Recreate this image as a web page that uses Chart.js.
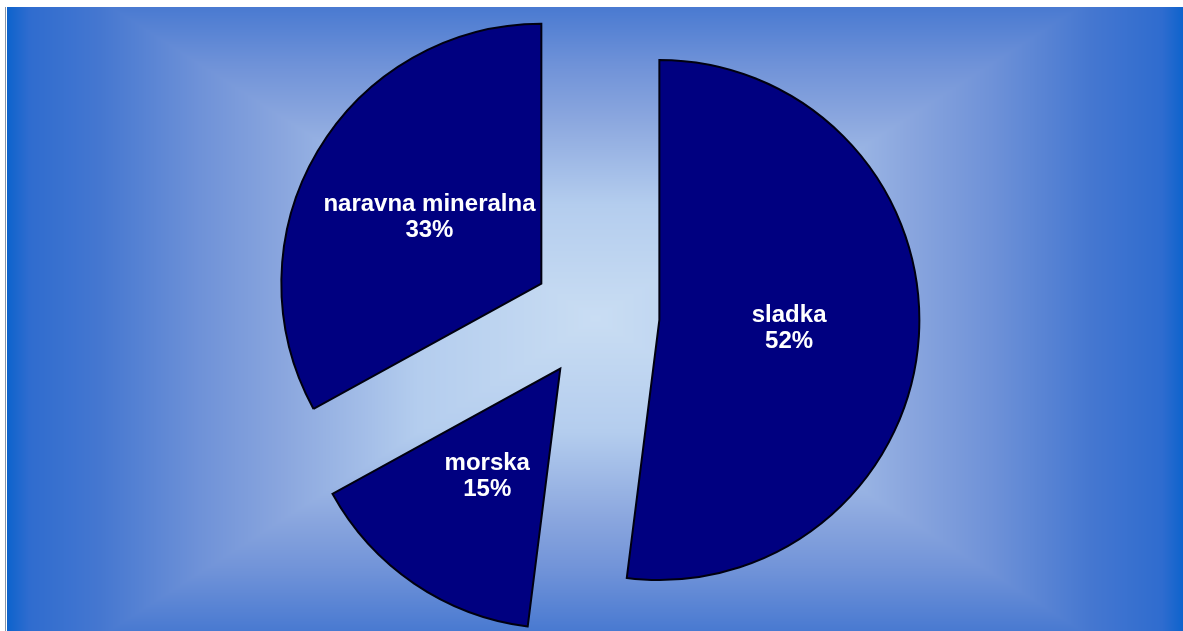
<!DOCTYPE html>
<html>
<head>
<meta charset="utf-8">
<title>Voda</title>
<script src="https://cdn.jsdelivr.net/npm/chart.js@4.4.1/dist/chart.umd.min.js"></script>
<style>
  html, body { margin: 0; padding: 0; background: #ffffff; }
  canvas { display: block; }
</style>
</head>
<body>
<canvas id="pie" width="1183" height="631"></canvas>
<script>
const labels = ['sladka', 'morska', 'naravna mineralna'];
const shares = [52, 15, 33];

// backdrop: rectangular "path" gradient, light in the middle and blue at the edges
const bgStops = [
  [0, [201, 221, 243]], [0.3, [180, 205, 238]], [0.53, [138, 166, 222]], [0.67, [111, 146, 216]],
  [0.84, [69, 119, 208]], [0.96, [47, 108, 207]], [1, [10, 98, 204]]
];

function stopColor(t) {
  for (let i = 1; i < bgStops.length; i++) {
    if (t <= bgStops[i][0]) {
      const [t0, c0] = bgStops[i - 1];
      const [t1, c1] = bgStops[i];
      const f = (t - t0) / (t1 - t0);
      return c0.map((v, k) => v + (c1[k] - v) * f);
    }
  }
  return bgStops[bgStops.length - 1][1];
}

const backdrop = {
  id: 'backdrop',
  beforeDraw(chart) {
    const ctx = chart.ctx;
    const W = chart.width, H = chart.height;
    const x0 = 7, y0 = 7;
    const cx = 595, cy = 318;
    const hw = 590, hh = 379;
    const img = ctx.createImageData(W, H);
    const px = img.data;
    for (let y = 0; y < H; y++) {
      for (let x = 0; x < W; x++) {
        const i = (y * W + x) * 4;
        let c;
        if (x < x0 || y < y0) {
          c = x === 5 && y >= y0 ? [138, 150, 168] : [255, 255, 255];
        } else {
          const t = Math.min(1, Math.max(Math.abs(x - cx) / hw, Math.abs(y - cy) / hh));
          c = stopColor(t);
        }
        px[i] = c[0]; px[i + 1] = c[1]; px[i + 2] = c[2]; px[i + 3] = 255;
      }
    }
    ctx.putImageData(img, 0, 0);
  }
};

// pull every slice out from the centre along its middle angle
const explode = {
  id: 'explode',
  afterDatasetsUpdate(chart, args, opts) {
    chart.getDatasetMeta(0).data.forEach(arc => {
      const mid = (arc.startAngle + arc.endAngle) / 2;
      arc.x += Math.cos(mid) * opts.distance;
      arc.y += Math.sin(mid) * opts.distance;
    });
  }
};

// two-line label (name + percent) halfway out on each slice
const sliceLabels = {
  id: 'sliceLabels',
  afterDatasetsDraw(chart) {
    const ctx = chart.ctx;
    const ds = chart.data.datasets[0];
    ctx.save();
    ctx.font = 'bold 24px "Liberation Sans", Arial, sans-serif';
    ctx.fillStyle = '#ffffff';
    ctx.textAlign = 'center';
    ctx.textBaseline = 'middle';
    chart.getDatasetMeta(0).data.forEach((arc, i) => {
      const mid = (arc.startAngle + arc.endAngle) / 2;
      const r = arc.outerRadius * 0.5;
      const x = arc.x + Math.cos(mid) * r;
      const y = arc.y + Math.sin(mid) * r;
      ctx.fillText(chart.data.labels[i], x, y - 13);
      ctx.fillText(ds.data[i] + '%', x, y + 13);
    });
    ctx.restore();
  }
};

new Chart(document.getElementById('pie'), {
  type: 'pie',
  data: {
    labels: labels,
    datasets: [{
      data: shares,
      backgroundColor: '#000080',
      borderColor: '#000010',
      borderWidth: 2,
      borderJoinStyle: 'miter',
      clip: false
    }]
  },
  options: {
    responsive: false,
    animation: false,
    radius: 260,
    rotation: 0,
    layout: { padding: { left: 20, right: 11, top: 11, bottom: 10 } },
    plugins: {
      legend: { display: false },
      tooltip: { enabled: false },
      explode: { distance: 63.5 }
    }
  },
  plugins: [backdrop, explode, sliceLabels]
});
</script>
</body>
</html>
